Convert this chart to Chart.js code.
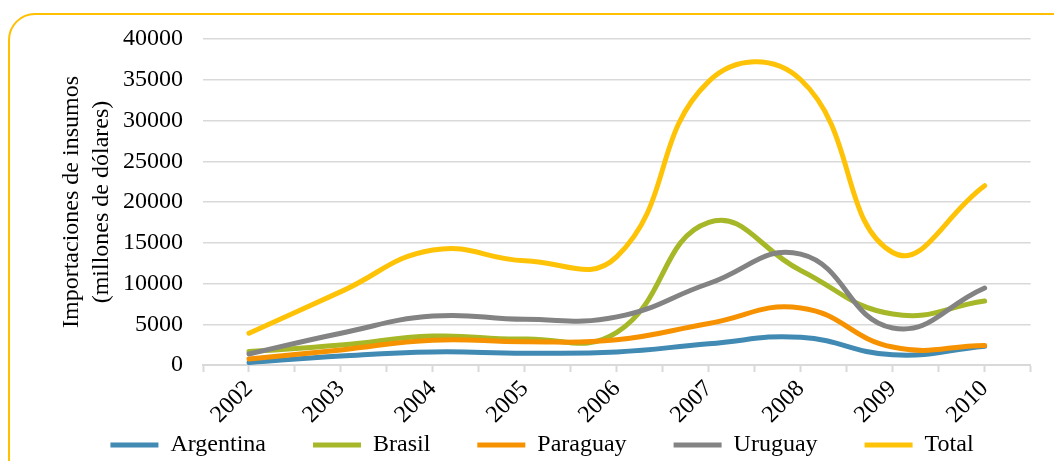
<!DOCTYPE html>
<html>
<head>
<meta charset="utf-8">
<script src="https://cdn.jsdelivr.net/npm/chart.js@4"></script>
<style>
  html, body { margin: 0; padding: 0; background: #fff; }
  #wrap { position: relative; width: 1054px; height: 461px; }
</style>
</head>
<body>
<div id="wrap"><canvas id="c" width="1054" height="461"></canvas></div>
<script>
const years = ['2002','2003','2004','2005','2006','2007','2008','2009','2010'];
const argentina = [300, 1100, 1600, 1450, 1600, 2600, 3400, 1250, 2300];
const brasil    = [1650, 2450, 3550, 3200, 4000, 17500, 11600, 6250, 7850];
const paraguay  = [750, 1850, 3050, 2850, 3100, 5100, 7000, 2200, 2400];
const uruguay   = [1350, 3900, 6000, 5600, 5900, 10000, 13600, 4550, 9450];
const total     = [3900, 9000, 14100, 12800, 13300, 34800, 35000, 13800, 22000];
const yTicks = [0, 5000, 10000, 15000, 20000, 25000, 30000, 35000, 40000];

const FONT = "'Liberation Serif', 'Times New Roman', serif";
const FS = 24;

function pts(arr) { return arr.map((v, i) => ({ x: i, y: v })); }

const series = [
  { label: 'Argentina', data: argentina, color: '#418AB3' },
  { label: 'Brasil',    data: brasil,    color: '#A6B727' },
  { label: 'Paraguay',  data: paraguay,  color: '#F69200' },
  { label: 'Uruguay',   data: uruguay,   color: '#838383' },
  { label: 'Total',     data: total,     color: '#FEC306' }
];

const borderPlugin = {
  id: 'frame',
  beforeDraw(chart) {
    const ctx = chart.ctx;
    ctx.save();
    ctx.fillStyle = '#fff';
    ctx.fillRect(0, 0, chart.width, chart.height);
    ctx.strokeStyle = '#FFC000';
    ctx.lineWidth = 2;
    const x = 9, y = 14, w = 1080, h = 470, r = 26;
    ctx.beginPath();
    ctx.moveTo(x + r, y);
    ctx.lineTo(x + w - r, y);
    ctx.arcTo(x + w, y, x + w, y + r, r);
    ctx.lineTo(x + w, y + h - r);
    ctx.arcTo(x + w, y + h, x + w - r, y + h, r);
    ctx.lineTo(x + r, y + h);
    ctx.arcTo(x, y + h, x, y + h - r, r);
    ctx.lineTo(x, y + r);
    ctx.arcTo(x, y, x + r, y, r);
    ctx.closePath();
    ctx.stroke();
    ctx.restore();
  }
};

new Chart(document.getElementById('c'), {
  type: 'line',
  data: {
    datasets: series.map((s, i) => ({
      label: s.label,
      data: pts(s.data),
      borderColor: s.color,
      backgroundColor: s.color,
      borderWidth: 5,
      borderCapStyle: 'round',
      borderJoinStyle: 'round',
      pointRadius: 0,
      pointHoverRadius: 0,
      tension: 0.45,
      fill: false,
      order: series.length - i
    }))
  },
  options: {
    responsive: false,
    animation: false,
    events: [],
    layout: { padding: { left: 53, right: 23, top: 39, bottom: -6 } },
    plugins: {
      tooltip: { enabled: false },
      legend: {
        position: 'bottom',
        labels: {
          font: { family: FONT, size: FS },
          color: '#000',
          usePointStyle: true,
          pointStyle: 'line',
          pointStyleWidth: 48,
          padding: 5,
          sort: (a, b) => a.datasetIndex - b.datasetIndex,
          generateLabels(chart) {
            const items = Chart.defaults.plugins.legend.labels.generateLabels(chart);
            items.forEach((it) => {
              if (it.datasetIndex < series.length - 1) it.text = it.text + '\u00a0'.repeat(7);
            });
            return items;
          }
        }
      }
    },
    scales: {
      x: {
        type: 'linear',
        min: -0.5,
        max: 8.5,
        afterBuildTicks(scale) {
          const t = [];
          for (let k = 0; k <= 18; k++) t.push({ value: -0.5 + k * 0.5 });
          scale.ticks = t;
        },
        afterFit(scale) { scale.height = 63; },
        grid: {
          drawOnChartArea: false,
          drawTicks: true,
          tickLength: 7,
          tickWidth: 2,
          tickColor: '#d9d9d9'
        },
        border: { display: true, color: '#d9d9d9', width: 2 },
        ticks: {
          autoSkip: false,
          minRotation: 45,
          maxRotation: 45,
          padding: 3,
          color: '#000',
          font: { family: FONT, size: FS },
          callback: (v) => Number.isInteger(v) ? years[v] : ''
        }
      },
      y: {
        min: 0,
        max: 40000,
        afterBuildTicks(scale) { scale.ticks = yTicks.map(v => ({ value: v })); },
        afterFit(scale) { scale.width = 150; },
        grid: { color: '#d9d9d9', lineWidth: 1.5, drawTicks: false },
        border: { display: false },
        ticks: {
          padding: 20,
          color: '#000',
          font: { family: FONT, size: FS },
          callback: (v) => String(v)
        },
        title: {
          display: true,
          text: ['Importaciones de insumos', '(millones de dólares)'],
          color: '#000',
          font: { family: FONT, size: FS, lineHeight: 1.25 },
          padding: { top: 4, bottom: 0 }
        }
      }
    }
  },
  plugins: [borderPlugin]
});
</script>
</body>
</html>
